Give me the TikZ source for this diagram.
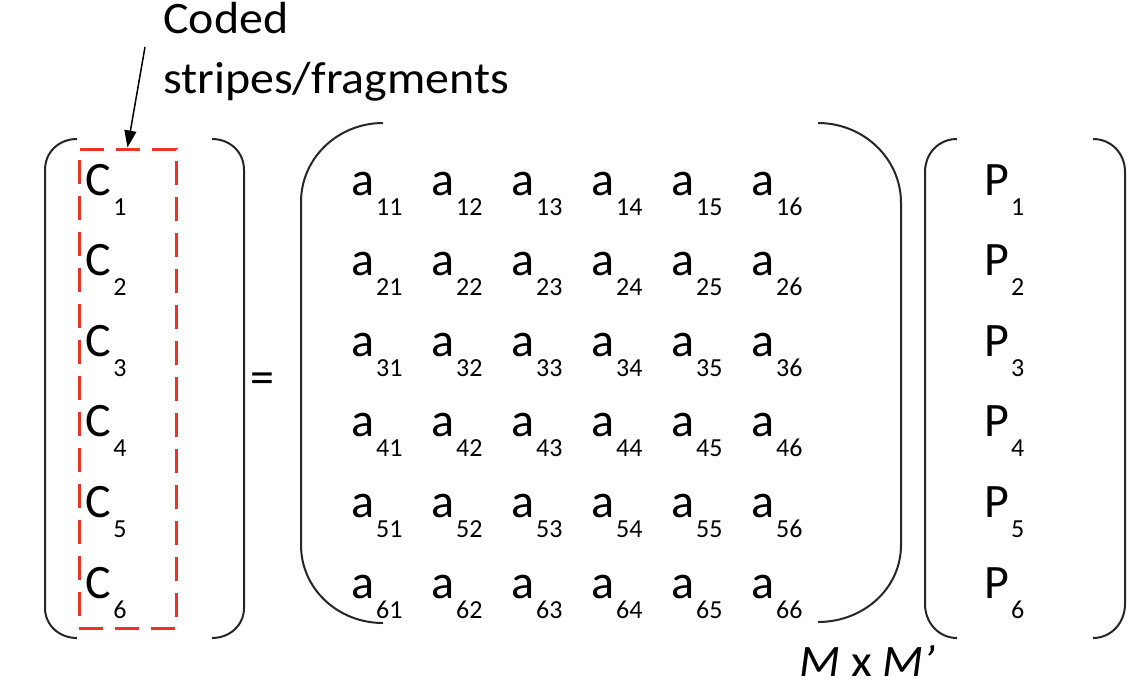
\documentclass[tikz,border=0pt]{standalone}
\usepackage{fontspec}
\setmainfont{Carlito}
\newfontfamily\lblfont[FakeStretch=1.065]{Carlito}
\usetikzlibrary{arrows.meta}
\definecolor{boxred}{RGB}{234,52,36}
\newcommand{\bigsz}{\fontsize{48}{56}\selectfont}
\newcommand{\lblsz}{\lblfont\fontsize{45}{54}\selectfont}
\newcommand{\subsz}{\fontsize{26}{30}\selectfont}
\newcommand{\ent}[2]{#1\kern2pt\raisebox{-20pt}{\subsz #2}}
\begin{document}
\begin{tikzpicture}[x=1pt,y=-1pt,
  paren/.style={draw=black!85, line width=2pt},
  entry/.style={anchor=base west, inner sep=0pt, font=\bigsz},
  lbl/.style={anchor=base west, inner sep=0pt, font=\lblsz, text height=30pt, text depth=2pt},
  stripebox/.style={draw=boxred, line width=3pt, dash pattern=on 24pt off 12pt, inner sep=0pt, minimum width=97pt, minimum height=479pt}]
\useasboundingbox (0,0) rectangle (1137,686);
\fill[white] (0,0) rectangle (1137,686);
% parentheses
\draw[paren] (77,139) .. controls (59,139) and (45,152) .. (45,170) -- (45,608) .. controls (45,625) and (59,638) .. (77,638);
\draw[paren] (212,139) .. controls (230,139) and (244,152) .. (244,170) -- (244,608) .. controls (244,625) and (230,638) .. (212,638);
\draw[paren] (383,123) .. controls (338,123) and (301,158) .. (301,202) -- (301,545) .. controls (301,589) and (338,623) .. (383,623);
\draw[paren] (818,123) .. controls (863,123) and (901,158) .. (901,203) -- (901,545) .. controls (901,589) and (863,622) .. (818,622);
\draw[paren] (957,139) .. controls (939,139) and (925,153) .. (925,172) -- (925,604) .. controls (925,623) and (939,638) .. (957,638);
\draw[paren] (1093,139) .. controls (1111,139) and (1125,153) .. (1125,172) -- (1125,604) .. controls (1125,623) and (1111,638) .. (1093,638);
% dashed box
\node[stripebox] (box) at (127.5,388.5) {};
% label and arrow
\node[lbl] (lblA) at (163,33.5) {Coded};
\node[lbl] (lblB) at (163,93) {stripes/fragments};
\coordinate (arrstart) at (145,47);
\draw[line width=1.5pt, -{Triangle[length=17pt,width=12pt]}] (arrstart) -- (box.north);
% columns
\foreach \i in {1,...,6} {
  \pgfmathsetmacro{\yy}{195+80.6*(\i-1)}
  \node[entry] (c\i) at (85.5,\yy) {\ent{C}{\i}};
  \node[entry] (p\i) at (984,\yy) {\ent{P}{\i}};
  \foreach \j in {1,...,6} {
    \pgfmathsetmacro{\xx}{351+80*(\j-1)}
    \node[entry] (a\i\j) at (\xx,\yy) {\ent{a}{\i\j}};
  }
}
\node[inner sep=0pt, font=\bigsz] (eq) at (262,383) {=};
\node[lbl] (dim) at (799,676) {\textit{M} x \textit{M’}};
\end{tikzpicture}
\end{document}
